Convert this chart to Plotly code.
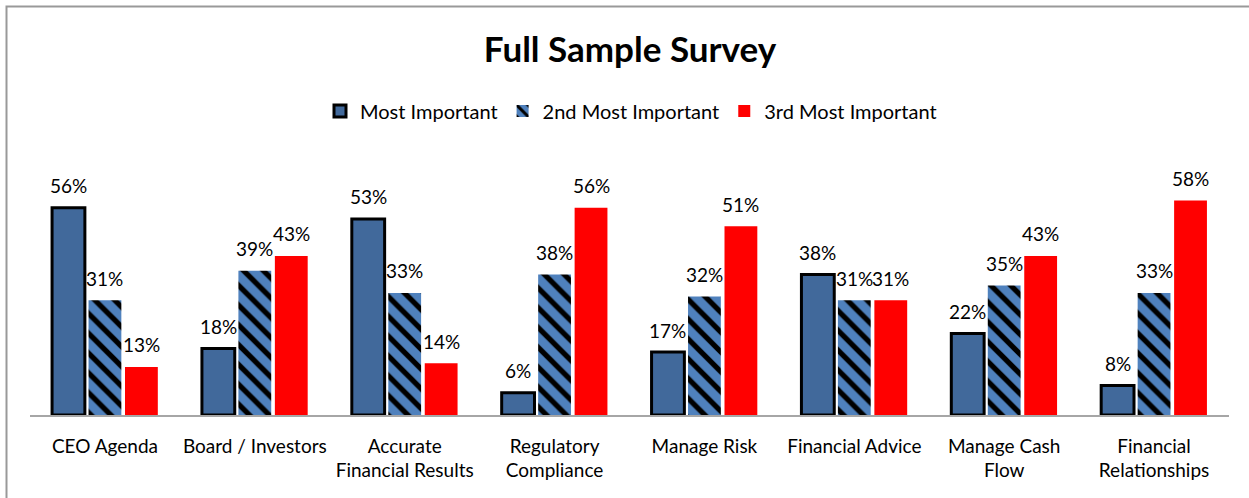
import plotly.graph_objects as go

categories = ["CEO Agenda", "Board / Investors", "Accurate<br>Financial Results",
              "Regulatory<br>Compliance", "Manage Risk", "Financial Advice",
              "Manage Cash<br>Flow", "Financial<br>Relationships"]
most = [0.56, 0.18, 0.53, 0.06, 0.17, 0.38, 0.22, 0.08]
second = [0.31, 0.39, 0.33, 0.38, 0.32, 0.31, 0.35, 0.33]
third = [0.13, 0.43, 0.14, 0.56, 0.51, 0.31, 0.43, 0.58]
series_names = ["Most Important", "2nd Most Important", "3rd Most Important"]

FONT = "Lato, 'Open Sans', sans-serif"

ml, mr, mt, mb = 30, 20, 156, 83
W, H = 1249, 498
pw, ph = W - ml - mr, H - mt - mb
BARGAP = 0.27

fig = go.Figure()
fig.add_trace(go.Bar(
    x=categories, y=most, name=series_names[0],
    marker=dict(color="#41699B", line=dict(color="black", width=3))))
fig.add_trace(go.Bar(
    x=categories, y=second, name=series_names[1],
    marker=dict(color="#4F81BD", line=dict(width=0),
                pattern=dict(shape="\\", fgcolor="black", bgcolor="#4F81BD",
                             size=14, solidity=0.38, fillmode="replace"))))
fig.add_trace(go.Bar(
    x=categories, y=third, name=series_names[2],
    marker=dict(color="#FF0000", line=dict(width=0))))

# data labels as annotations, offset to each bar's slot in the group
slot = pw / len(categories) * (1 - BARGAP) / 3
for k, vals in enumerate([most, second, third]):
    for c, v in zip(categories, vals):
        fig.add_annotation(x=c, y=v, text=f"{v:.0%}", showarrow=False,
                           xshift=(k - 1) * slot, yshift=22,
                           font=dict(size=19, color="black", family=FONT))

fig.update_layout(
    width=W, height=H,
    margin=dict(l=ml, r=mr, t=mt, b=mb, autoexpand=False),
    paper_bgcolor="white", plot_bgcolor="white",
    font=dict(family=FONT, size=19, color="black"),
    title=dict(text="<b>Full Sample Survey</b>", x=(630 - ml) / pw, xref="paper",
               xanchor="center", y=1 - 50 / H, yanchor="middle",
               font=dict(size=35, family=FONT, color="black")),
    legend=dict(orientation="h", x=(631 - ml) / pw, xanchor="center", y=(415 - 111) / ph,
                yanchor="middle", font=dict(size=20), itemwidth=30,
                traceorder="normal"),
    barmode="group", bargap=BARGAP, bargroupgap=0.1,
    showlegend=True,
)
fig.update_xaxes(showline=True, linecolor="#A6A6A6", linewidth=1.5,
                 ticks="", tickfont=dict(size=19), showgrid=False, automargin=False,
                 ticklabelstandoff=13)
fig.update_yaxes(range=[0, 0.7], visible=False, showgrid=False, automargin=False)

# chart-area border: visible on top and left only
fig.add_shape(type="rect", xref="paper", yref="paper",
              x0=(6.5 - ml) / pw, x1=(1260 - ml) / pw,
              y0=(415 - 520) / ph, y1=(415 - 6.5) / ph,
              line=dict(color="#999999", width=2), fillcolor="rgba(0,0,0,0)")

fig.write_html("out.html", config={"displayModeBar": False},
               post_script="document.body.style.margin='0';document.body.style.overflow='hidden';")
